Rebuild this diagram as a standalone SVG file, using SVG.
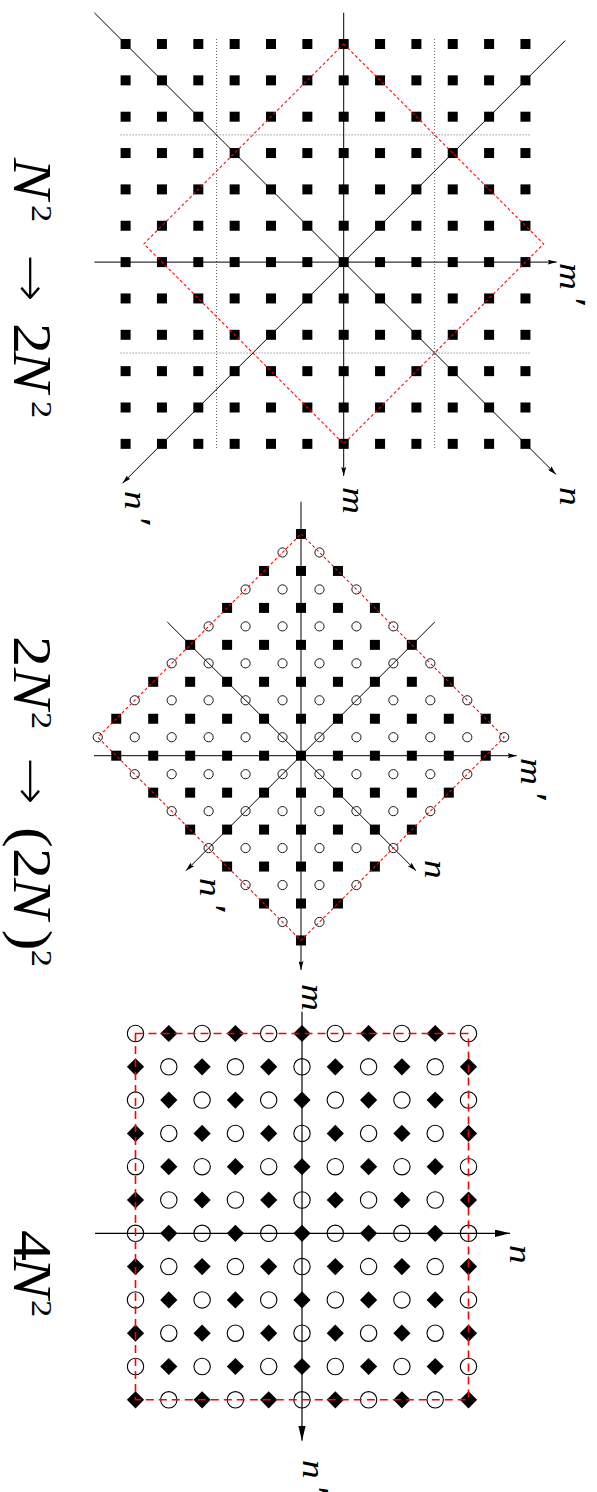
<svg xmlns="http://www.w3.org/2000/svg" width="597" height="1492" viewBox="0 0 597 1492">
<style>
.ax{stroke:#000;stroke-width:1;fill:none}
.dg{stroke:#000;stroke-width:1;fill:none}
.dot{stroke:#555;stroke-width:0.9;stroke-dasharray:1 2;fill:none}
.red1{stroke:#f00;stroke-width:1.05;stroke-dasharray:3 2.4;fill:none}
.red3{stroke:#f00;stroke-width:1.6;stroke-dasharray:8 5;fill:none}
.ax3{stroke:#000;stroke-width:1.2;fill:none}
.lbl{font-family:"Liberation Serif",serif;font-style:italic;font-size:31px}
.pr{font-size:38px}
.ttl{font-family:"Liberation Serif",serif;font-size:54px}
.arr{font-family:"DejaVu Sans",sans-serif;font-size:52px;stroke:#fff;stroke-width:2}
</style>
<defs>
<marker id="a1" viewBox="0 0 9 5" refX="9" refY="2.5" markerWidth="9" markerHeight="5" markerUnits="userSpaceOnUse" orient="auto"><path d="M0,0L9,2.5L0,5L1.5,2.5Z"/></marker>
<marker id="a3" viewBox="0 0 15 7.4" refX="15" refY="3.7" markerWidth="15" markerHeight="7.4" markerUnits="userSpaceOnUse" orient="auto"><path d="M0,0L15,3.7L0,7.4Z"/></marker>
<rect id="sq" x="-5" y="-5" width="10" height="10"/>
<circle id="oc" r="4.6" fill="none" stroke="#000" stroke-width="0.9"/>
<path id="dm" d="M0-8.6L8.6 0 0 8.6-8.6 0Z"/>
<circle id="OC" r="8.2" fill="none" stroke="#000" stroke-width="1.1"/>
<g id="p1row">
<use href="#sq" x="125.6"/><use href="#sq" x="161.95"/><use href="#sq" x="198.3"/><use href="#sq" x="234.65"/><use href="#sq" x="271"/><use href="#sq" x="307.35"/><use href="#sq" x="343.7"/><use href="#sq" x="380.05"/><use href="#sq" x="416.4"/><use href="#sq" x="452.75"/><use href="#sq" x="489.1"/><use href="#sq" x="525.45"/>
</g>
<g id="s0"><use href="#sq"/></g>
<g id="s1"><use href="#s0"/><use href="#sq" x="-36.95"/><use href="#sq" x="36.95"/></g>
<g id="s2"><use href="#s1"/><use href="#sq" x="-73.9"/><use href="#sq" x="73.9"/></g>
<g id="s3"><use href="#s2"/><use href="#sq" x="-110.85"/><use href="#sq" x="110.85"/></g>
<g id="s4"><use href="#s3"/><use href="#sq" x="-147.8"/><use href="#sq" x="147.8"/></g>
<g id="s5"><use href="#s4"/><use href="#sq" x="-184.75"/><use href="#sq" x="184.75"/></g>
<g id="c1"><use href="#oc" x="-18.475"/><use href="#oc" x="18.475"/></g>
<g id="c2"><use href="#c1"/><use href="#oc" x="-55.425"/><use href="#oc" x="55.425"/></g>
<g id="c3"><use href="#c2"/><use href="#oc" x="-92.375"/><use href="#oc" x="92.375"/></g>
<g id="c4"><use href="#c3"/><use href="#oc" x="-129.325"/><use href="#oc" x="129.325"/></g>
<g id="c5"><use href="#c4"/><use href="#oc" x="-166.275"/><use href="#oc" x="166.275"/></g>
<g id="c6"><use href="#c5"/><use href="#oc" x="-203.225"/><use href="#oc" x="203.225"/></g>
<g id="p3E"><use href="#OC" x="135.5"/><use href="#dm" x="168.8"/><use href="#OC" x="202.1"/><use href="#dm" x="235.4"/><use href="#OC" x="268.7"/><use href="#dm" x="302"/><use href="#OC" x="335.3"/><use href="#dm" x="368.6"/><use href="#OC" x="401.9"/><use href="#dm" x="435.2"/><use href="#OC" x="468.5"/></g>
<g id="p3O"><use href="#dm" x="135.5"/><use href="#OC" x="168.8"/><use href="#dm" x="202.1"/><use href="#OC" x="235.4"/><use href="#dm" x="268.7"/><use href="#OC" x="302"/><use href="#dm" x="335.3"/><use href="#OC" x="368.6"/><use href="#dm" x="401.9"/><use href="#OC" x="435.2"/><use href="#dm" x="468.5"/></g>
</defs>
<rect width="597" height="1492" fill="#fff"/>

<g id="titles">
<text id="title1" class="ttl" transform="translate(14,158) rotate(90) scale(1.15,1)"><tspan font-style="italic" x="0">N</tspan><tspan x="40.9" dy="-18" font-size="30">2</tspan><tspan class="arr" x="82.6" dy="18">→</tspan><tspan x="143.5">2</tspan><tspan x="167.8" font-style="italic">N</tspan><tspan x="211.3" dy="-18" font-size="30">2</tspan></text>
<text id="title2" class="ttl" transform="translate(14,636) rotate(90) scale(1.15,1)"><tspan x="0">2</tspan><tspan x="27.8" font-style="italic">N</tspan><tspan x="66.1" dy="-18" font-size="30">2</tspan><tspan class="arr" x="104.3" dy="18">→</tspan><tspan x="166.1">(</tspan><tspan x="184.3">2</tspan><tspan x="210.4" font-style="italic">N</tspan><tspan x="255.4">)</tspan><tspan x="272.8" dy="-18" font-size="30">2</tspan></text>
<text id="title3" class="ttl" transform="translate(14,1230) rotate(90) scale(1.15,1)"><tspan x="0">4</tspan><tspan x="23.5" font-style="italic">N</tspan><tspan x="60.9" dy="-18" font-size="30">2</tspan></text>
</g>

<g id="panel1">
<g id="panel1-grid">
<path class="dot" d="M216.5,39V449M434.6,39V449M120.6,134.9H530.5M120.6,353H530.5"/>
</g>
<g id="panel1-points">
<use href="#p1row" y="44"/><use href="#p1row" y="80.35"/><use href="#p1row" y="116.7"/><use href="#p1row" y="153.05"/><use href="#p1row" y="189.4"/><use href="#p1row" y="225.75"/><use href="#p1row" y="262.1"/><use href="#p1row" y="298.45"/><use href="#p1row" y="334.8"/><use href="#p1row" y="371.15"/><use href="#p1row" y="407.5"/><use href="#p1row" y="443.85"/>
</g>
</g>

<g id="panel2">
<g id="panel2-squares">
<use href="#s0" x="301" y="534"/><use href="#s1" x="301" y="570.95"/><use href="#s2" x="301" y="607.9"/><use href="#s3" x="301" y="644.85"/><use href="#s4" x="301" y="681.8"/><use href="#s5" x="301" y="718.75"/><use href="#s5" x="301" y="755.7"/><use href="#s4" x="301" y="792.65"/><use href="#s3" x="301" y="829.6"/><use href="#s2" x="301" y="866.55"/><use href="#s1" x="301" y="903.5"/><use href="#s0" x="301" y="940.45"/>
</g>
<g id="panel2-circles">
<use href="#c1" x="301" y="552.48"/><use href="#c2" x="301" y="589.43"/><use href="#c3" x="301" y="626.38"/><use href="#c4" x="301" y="663.33"/><use href="#c5" x="301" y="700.28"/><use href="#c6" x="301" y="737.23"/><use href="#c5" x="301" y="774.18"/><use href="#c4" x="301" y="811.13"/><use href="#c3" x="301" y="848.08"/><use href="#c2" x="301" y="885.03"/><use href="#c1" x="301" y="921.98"/>
</g>
</g>

<g id="panel3">
<use href="#p3E" y="1033.5"/><use href="#p3O" y="1066.8"/><use href="#p3E" y="1100.1"/><use href="#p3O" y="1133.4"/><use href="#p3E" y="1166.7"/><use href="#p3O" y="1200"/><use href="#p3E" y="1233.3"/><use href="#p3O" y="1266.6"/><use href="#p3E" y="1299.9"/><use href="#p3O" y="1333.2"/><use href="#p3E" y="1366.5"/><use href="#p3O" y="1399.8"/>
</g>

<g id="connectors">
<path class="ax" d="M94.4,262.1H556.7" marker-end="url(#a1)"/>
<path class="ax" d="M343.7,12.7V476" marker-end="url(#a1)"/>
<path class="dg" d="M94.4,12.8L556,474.4" marker-end="url(#a1)"/>
<path class="dg" d="M565.3,40.5L122.5,483.3" marker-end="url(#a1)"/>
<path class="red1" d="M343.7,44L543.6,243.9L343.7,443.85L143.8,243.9Z"/>

<path class="ax" d="M94,755.7H516.7" marker-end="url(#a1)"/>
<path class="ax" d="M301,501.7V970" marker-end="url(#a1)"/>
<path class="dg" d="M167.3,622L416,870.7" marker-end="url(#a1)"/>
<path class="dg" d="M434.7,622L186,870.7" marker-end="url(#a1)"/>
<path class="red1" d="M301,534L504.23,737.23L301,940.45L97.78,737.23Z"/>

<path class="ax3" d="M95,1233.3H510" marker-end="url(#a3)"/>
<path class="ax3" d="M302,1011.7V1440.7" marker-end="url(#a3)"/>
<path class="red3" d="M135.5,1033.5H468.5V1399.8H135.5Z"/>
</g>

<g id="labels">
<text class="lbl" transform="translate(560,263) rotate(90) scale(1.2,1)">m<tspan class="pr" dx="4">′</tspan></text>
<text class="lbl" transform="translate(560,487) rotate(90) scale(1.2,1)">n</text>
<text class="lbl" transform="translate(343,487) rotate(90) scale(1.2,1)">m</text>
<text class="lbl" transform="translate(125,491) rotate(90) scale(1.2,1)">n<tspan class="pr" dx="4">′</tspan></text>
<text class="lbl" transform="translate(521,758) rotate(90) scale(1.2,1)">m<tspan class="pr" dx="4">′</tspan></text>
<text class="lbl" transform="translate(425,860) rotate(90) scale(1.2,1)">n</text>
<text class="lbl" transform="translate(200,878) rotate(90) scale(1.2,1)">n<tspan class="pr" dx="4">′</tspan></text>
<text class="lbl" transform="translate(302,984) rotate(90) scale(1.2,1)">m</text>
<text class="lbl" transform="translate(510,1245) rotate(90) scale(1.2,1)">n</text>
<text class="lbl" transform="translate(303,1460) rotate(90) scale(1.2,1)">n<tspan class="pr" dx="4">′</tspan></text>
</g>
</svg>
